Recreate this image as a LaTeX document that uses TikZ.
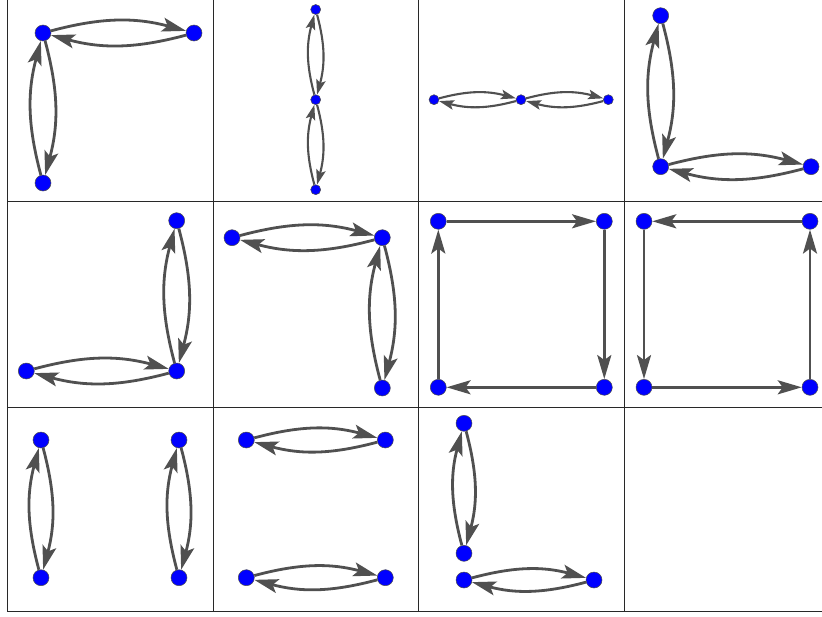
\documentclass[tikz,border=0pt]{standalone}
\usetikzlibrary{arrows.meta}
\definecolor{edgec}{RGB}{80,80,80}
\definecolor{gridc}{RGB}{40,40,40}
\begin{document}
\begin{tikzpicture}[x=1pt,y=-1pt,
  big/.style={circle,fill=blue,draw=black!70,line width=0.5pt,inner sep=0pt,minimum size=16pt},
  small/.style={circle,fill=blue,draw=black!70,line width=0.5pt,inner sep=0pt,minimum size=10pt},
  edgeL/.style={draw=edgec,line width=2.8pt,-{Stealth[length=24pt,width=14pt,inset=5pt]}},
  edgeS/.style={draw=edgec,line width=2.1pt,-{Stealth[length=15pt,width=9.5pt,inset=3pt]}},
  gridline/.style={draw=gridc,line width=1pt}]
\useasboundingbox (0,0) rectangle (822,616);
% grid
\draw[gridline] (7.5,0) -- (7.5,611.5);
\draw[gridline] (213,0) -- (213,611.5);
\draw[gridline] (418.5,0) -- (418.5,611.5);
\draw[gridline] (624.5,0) -- (624.5,611.5);
\draw[gridline] (7,201.5) -- (822,201.5);
\draw[gridline] (7,407) -- (822,407);
\draw[gridline] (7,611) -- (822,611);

% cell 1,1
\node[big] (a1) at (43,33) {};
\node[big] (a2) at (194,33) {};
\node[big] (a3) at (43,183) {};
\draw[edgeL] (a1) to[bend left=15] (a2);
\draw[edgeL] (a2) to[bend left=15] (a1);
\draw[edgeL] (a1) to[bend left=15] (a3);
\draw[edgeL] (a3) to[bend left=15] (a1);

% cell 1,2
\node[small] (b1) at (315.7,9.5) {};
\node[small] (b2) at (315.7,99.7) {};
\node[small] (b3) at (315.7,189.7) {};
\draw[edgeS] (b1) to[bend left=15] (b2);
\draw[edgeS] (b2) to[bend left=15] (b1);
\draw[edgeS] (b2) to[bend left=15] (b3);
\draw[edgeS] (b3) to[bend left=15] (b2);

% cell 1,3
\node[small] (c1) at (434,99.7) {};
\node[small] (c2) at (521,99.7) {};
\node[small] (c3) at (608.3,99.7) {};
\draw[edgeS] (c1) to[bend left=15] (c2);
\draw[edgeS] (c2) to[bend left=15] (c1);
\draw[edgeS] (c2) to[bend left=15] (c3);
\draw[edgeS] (c3) to[bend left=15] (c2);

% cell 1,4
\node[big] (d1) at (660.7,15.7) {};
\node[big] (d2) at (660.7,166.7) {};
\node[big] (d3) at (811,166.7) {};
\draw[edgeL] (d1) to[bend left=15] (d2);
\draw[edgeL] (d2) to[bend left=15] (d1);
\draw[edgeL] (d2) to[bend left=15] (d3);
\draw[edgeL] (d3) to[bend left=15] (d2);

% cell 2,1
\node[big] (e1) at (176.7,220.7) {};
\node[big] (e2) at (176.7,371) {};
\node[big] (e3) at (26.3,371) {};
\draw[edgeL] (e1) to[bend left=15] (e2);
\draw[edgeL] (e2) to[bend left=15] (e1);
\draw[edgeL] (e3) to[bend left=15] (e2);
\draw[edgeL] (e2) to[bend left=15] (e3);

% cell 2,2
\node[big] (f1) at (232,237.7) {};
\node[big] (f2) at (382.3,237.7) {};
\node[big] (f3) at (382.3,388) {};
\draw[edgeL] (f1) to[bend left=15] (f2);
\draw[edgeL] (f2) to[bend left=15] (f1);
\draw[edgeL] (f2) to[bend left=15] (f3);
\draw[edgeL] (f3) to[bend left=15] (f2);

% cell 2,3
\node[big] (g1) at (438.3,221.3) {};
\node[big] (g2) at (604.3,221.3) {};
\node[big] (g3) at (604.3,387.3) {};
\node[big] (g4) at (438.3,387.3) {};
\draw[edgeL] (g1) -- (g2);
\draw[edgeL] (g2) -- (g3);
\draw[edgeL] (g3) -- (g4);
\draw[edgeL] (g4) -- (g1);

% cell 2,4
\node[big] (h1) at (644,221.3) {};
\node[big] (h2) at (810,221.3) {};
\node[big] (h3) at (810,387.3) {};
\node[big] (h4) at (644,387.3) {};
\draw[edgeL] (h2) -- (h1);
\draw[edgeL] (h1) -- (h4);
\draw[edgeL] (h4) -- (h3);
\draw[edgeL] (h3) -- (h2);

% cell 3,1
\node[big] (i1) at (41,440) {};
\node[big] (i2) at (41,577.7) {};
\node[big] (i3) at (179,440) {};
\node[big] (i4) at (179,577.7) {};
\draw[edgeL] (i1) to[bend left=15] (i2);
\draw[edgeL] (i2) to[bend left=15] (i1);
\draw[edgeL] (i3) to[bend left=15] (i4);
\draw[edgeL] (i4) to[bend left=15] (i3);

% cell 3,2
\node[big] (j1) at (246.3,440) {};
\node[big] (j2) at (385.3,440) {};
\node[big] (j3) at (246.3,577.7) {};
\node[big] (j4) at (385.3,577.7) {};
\draw[edgeL] (j1) to[bend left=15] (j2);
\draw[edgeL] (j2) to[bend left=15] (j1);
\draw[edgeL] (j3) to[bend left=15] (j4);
\draw[edgeL] (j4) to[bend left=15] (j3);

% cell 3,3
\node[big] (k1) at (464,423.3) {};
\node[big] (k2) at (464,553.3) {};
\node[big] (k3) at (464,580) {};
\node[big] (k4) at (594,580) {};
\draw[edgeL] (k1) to[bend left=15] (k2);
\draw[edgeL] (k2) to[bend left=15] (k1);
\draw[edgeL] (k3) to[bend left=15] (k4);
\draw[edgeL] (k4) to[bend left=15] (k3);
\end{tikzpicture}
\end{document}
